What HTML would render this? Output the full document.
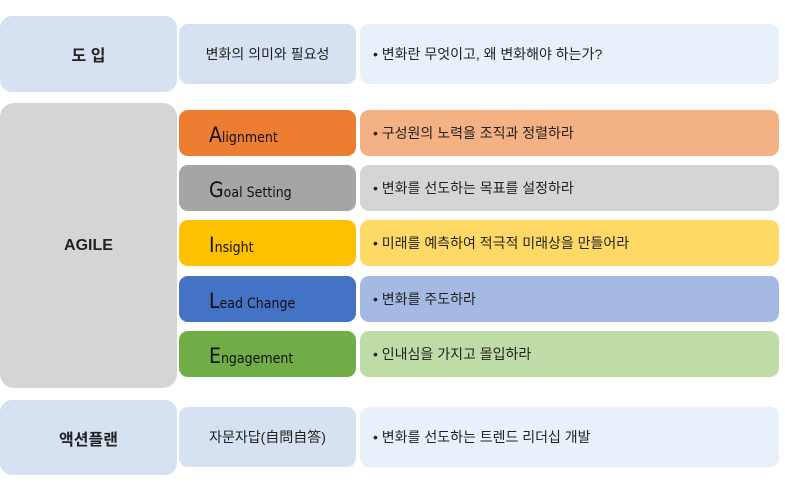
<!DOCTYPE html>
<html><head><meta charset="utf-8">
<style>
body{margin:0;width:785px;height:491px;background:#fff;position:relative;overflow:hidden;font-family:"Liberation Sans","Noto Sans CJK KR",sans-serif;color:#222}
.b{position:absolute;border-radius:9px;display:flex;align-items:center;box-sizing:border-box}
.c{justify-content:center}
.t{font-size:14px;padding-left:13px}
.m{font-size:14px;padding-left:30px;padding-top:4px;font-family:"DejaVu Sans Condensed","Liberation Sans",sans-serif}
.m span{font-size:21px;line-height:1}
.h{font-weight:bold;font-size:16px}
</style></head><body>
<div class="b c h" style="left:0;top:16px;width:177px;height:76px;background:#d6e2f2;border-radius:12px">도 입</div>
<div class="b c" style="left:179px;top:24px;width:177px;height:60px;background:#d6e2f2;font-size:14px">변화의 의미와 필요성</div>
<div class="b t" style="left:360px;top:24px;width:419px;height:60px;background:#e8f0f9">• 변화란 무엇이고, 왜 변화해야 하는가?</div>

<div class="b c h" style="left:0;top:103px;width:177px;height:285px;background:#d6d4d5;border-radius:14px">AGILE</div>

<div class="b m" style="left:179px;top:110px;width:177px;height:46px;background:#ed7d31;color:#111"><div><span>A</span>lignment</div></div>
<div class="b t" style="left:360px;top:110px;width:419px;height:46px;background:#f4b183">• 구성원의 노력을 조직과 정렬하라</div>

<div class="b m" style="left:179px;top:165px;width:177px;height:46px;background:#a5a5a5;color:#111"><div><span>G</span>oal Setting</div></div>
<div class="b t" style="left:360px;top:165px;width:419px;height:46px;background:#d5d5d5">• 변화를 선도하는 목표를 설정하라</div>

<div class="b m" style="left:179px;top:220px;width:177px;height:46px;background:#ffc000;color:#111"><div><span>I</span>nsight</div></div>
<div class="b t" style="left:360px;top:220px;width:419px;height:46px;background:#ffd966">• 미래를 예측하여 적극적 미래상을 만들어라</div>

<div class="b m" style="left:179px;top:276px;width:177px;height:46px;background:#4472c4;color:#111"><div><span>L</span>ead Change</div></div>
<div class="b t" style="left:360px;top:276px;width:419px;height:46px;background:#a4b9e3">• 변화를 주도하라</div>

<div class="b m" style="left:179px;top:331px;width:177px;height:46px;background:#70ad47;color:#111"><div><span>E</span>ngagement</div></div>
<div class="b t" style="left:360px;top:331px;width:419px;height:46px;background:#bfdca7">• 인내심을 가지고 몰입하라</div>

<div class="b c h" style="left:0;top:400px;width:177px;height:75px;background:#d6e2f2;border-radius:12px">액션플랜</div>
<div class="b c" style="left:179px;top:407px;width:177px;height:60px;background:#d6e2f2;font-size:14px">자문자답(自問自答)</div>
<div class="b t" style="left:360px;top:407px;width:419px;height:60px;background:#e8f0f9">• 변화를 선도하는 트렌드 리더십 개발</div>
</body></html>
